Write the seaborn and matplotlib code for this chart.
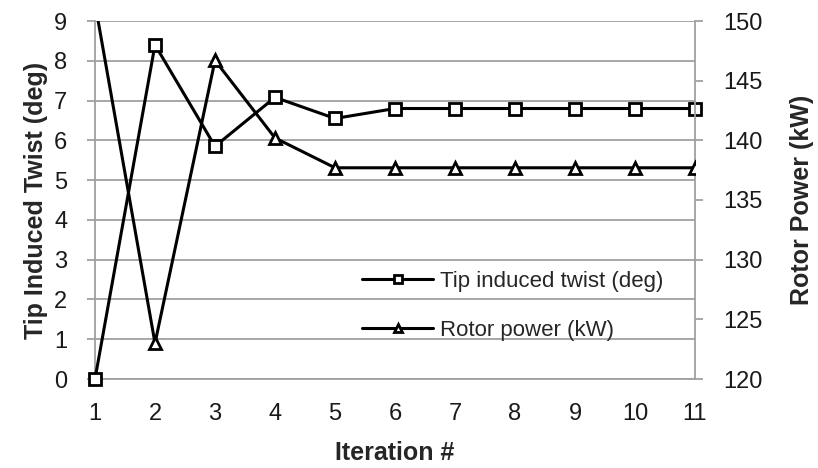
import matplotlib
matplotlib.use("Agg")
import matplotlib.pyplot as plt
import seaborn as sns
import pandas as pd

iterations = [1, 2, 3, 4, 5, 6, 7, 8, 9, 10, 11]
twist_deg = [0.0, 8.4, 5.85, 7.08, 6.55, 6.8, 6.8, 6.8, 6.8, 6.8, 6.8]
rotor_power_kw = [151.5, 123.0, 146.7, 140.2, 137.7, 137.7, 137.7, 137.7, 137.7, 137.7, 137.7]
left_ticks = list(range(0, 10))
right_ticks = [120, 125, 130, 135, 140, 145, 150]

sns.set_theme(style="white")
plt.rcParams['font.family'] = ['Liberation Sans', 'DejaVu Sans']

df = pd.DataFrame({"it": iterations, "twist": twist_deg, "power": rotor_power_kw})

fig = plt.figure(figsize=(8.18, 4.68), dpi=100)
ax = fig.add_axes([95/818, 1-379/468, 600/818, 358/468])
ax2 = ax.twinx()

grid_c = "#a0a0a0"
for y in left_ticks:
    ax.axhline(y, color=grid_c, lw=1.3, zorder=0)

sns.lineplot(data=df, x="it", y="twist", ax=ax, color="black", lw=2.2,
             marker="s", markersize=8, markerfacecolor="white",
             markeredgecolor="black", markeredgewidth=2,
             label="Tip induced twist (deg)", legend=False, clip_on=False, zorder=3)
sns.lineplot(data=df, x="it", y="power", ax=ax2, color="black", lw=2.2,
             marker="^", markersize=9, markerfacecolor="white",
             markeredgecolor="black", markeredgewidth=2,
             label="Rotor power (kW)", legend=False, clip_on=True, zorder=3)

ax.set_xlim(1, 11)
ax.set_ylim(0, 9)
ax2.set_ylim(120, 150)
ax.set_xticks(iterations)
ax.set_yticks(left_ticks)
ax2.set_yticks(right_ticks)

for a in (ax, ax2):
    for s in a.spines.values():
        s.set_visible(False)
for a, side in ((ax, 'left'), (ax, 'bottom'), (ax2, 'right')):
    a.spines[side].set_visible(True)
    a.spines[side].set_color(grid_c)
    a.spines[side].set_linewidth(1.3)

tick_kw = dict(labelsize=17, labelcolor="#1a1a1a", color=grid_c, width=1.3, length=6, direction="out")
ax.tick_params(axis="x", pad=11, **tick_kw)
ax.tick_params(axis="y", left=True, pad=14, **tick_kw)
ax2.tick_params(axis="y", right=True, pad=14, **tick_kw)

ax.set_xlabel("Iteration #", fontsize=18, fontweight="bold", labelpad=12)
ax.set_ylabel("Tip Induced Twist (deg)", fontsize=18, fontweight="bold", labelpad=4)
ax2.set_ylabel("Rotor Power (kW)", fontsize=18, fontweight="bold", labelpad=20)

h1, l1 = ax.get_legend_handles_labels()
h2, l2 = ax2.get_legend_handles_labels()
leg = ax2.legend(h1 + h2, l1 + l2, loc="upper left", bbox_to_anchor=(342/818, 1-251/468),
                 bbox_transform=fig.transFigure, frameon=False, fontsize=16,
                 handlelength=3.2, handletextpad=0.3, labelspacing=1.25, markerscale=0.7)

fig.savefig("out.png", dpi=100)
